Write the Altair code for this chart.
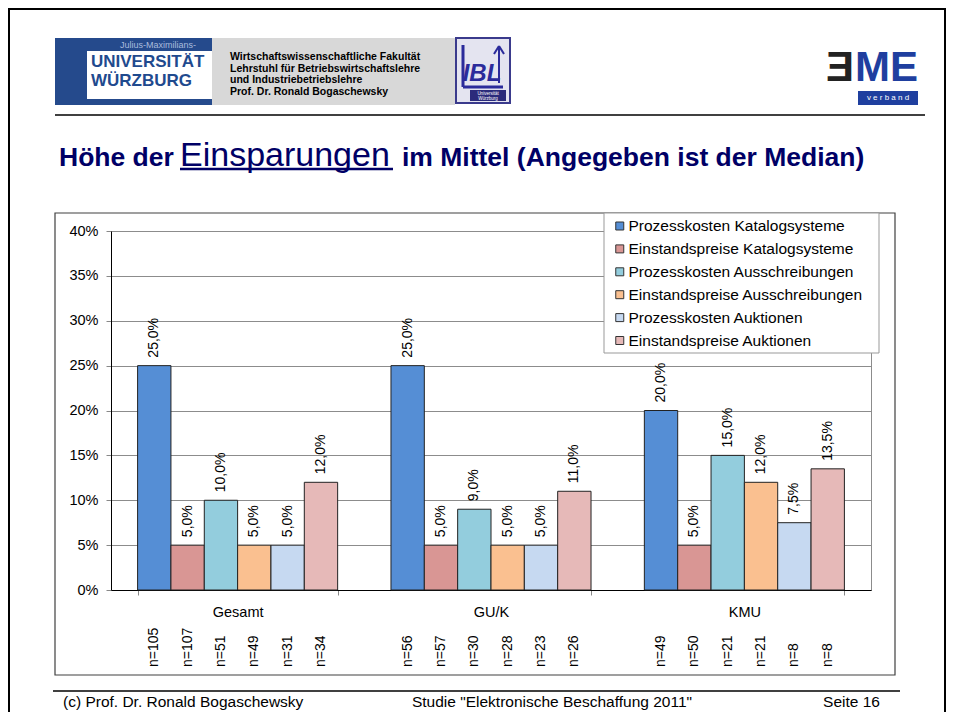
import altair as alt
import pandas as pd

# ---------------- data ----------------
groups = ["Gesamt", "GU/K", "KMU"]
series = [
    "Prozesskosten Katalogsysteme",
    "Einstandspreise Katalogsysteme",
    "Prozesskosten Ausschreibungen",
    "Einstandspreise Ausschreibungen",
    "Prozesskosten Auktionen",
    "Einstandspreise Auktionen",
]
colors = ["#558ED5", "#D99694", "#93CDDD", "#FAC090", "#C6D9F1", "#E6B9B8"]
values_gesamt = [25.0, 5.0, 10.0, 5.0, 5.0, 12.0]
values_guk = [25.0, 5.0, 9.0, 5.0, 5.0, 11.0]
values_kmu = [20.0, 5.0, 15.0, 12.0, 7.5, 13.5]
n_gesamt = [105, 107, 51, 49, 31, 34]
n_guk = [56, 57, 30, 28, 23, 26]
n_kmu = [49, 50, 21, 21, 8, 8]
y_ticks = [0, 5, 10, 15, 20, 25, 30, 35, 40]

title_parts = ["Höhe der", "Einsparungen", "im Mittel (Angegeben ist der Median)"]
footer_left = "(c) Prof. Dr. Ronald Bogaschewsky"
footer_mid = 'Studie "Elektronische Beschaffung 2011"'
footer_right = "Seite 16"
header_lines = ("Wirtschaftswissenschaftliche Fakultät\nLehrstuhl für Betriebswirtschaftslehre\n"
                "und Industriebetriebslehre\nProf. Dr. Ronald Bogaschewsky")

rows = []
for g, vals, ns in [("Gesamt", values_gesamt, n_gesamt), ("GU/K", values_guk, n_guk), ("KMU", values_kmu, n_kmu)]:
    for s, v, n in zip(series, vals, ns):
        rows.append({
            "group": g, "series": s, "value": v, "n": n,
            "label": f"{v:.1f}".replace(".", ",") + "%",
            "ntext": f"n={n}",
        })
df = pd.DataFrame(rows)

FONT = "Liberation Sans"
NAVY = "#000066"

# plot origin on the page
OX, OY = 111, 231
W, H = 760, 359


def px(x):
    return x - OX


def py(y):
    return y - OY


def one(txt=""):
    return pd.DataFrame({"t": [txt]})


def text_layer(txt, x, y, size, color="black", weight="normal", align="left",
               baseline="alphabetic", style=None, line_height=None, font=FONT):
    kw = dict(align=align, baseline=baseline, fontSize=size, color=color,
              fontWeight=weight, font=font)
    if style:
        kw["fontStyle"] = style
    if line_height:
        kw["lineHeight"] = line_height
        kw["lineBreak"] = "\n"
    return alt.Chart(one(txt)).mark_text(**kw).encode(
        text="t:N", x=alt.value(px(x)), y=alt.value(py(y)))


def rect_layer(x1, y1, x2, y2, fill="white", stroke=None, sw=1, fill_opacity=1):
    kw = dict(fill=fill, fillOpacity=fill_opacity)
    if stroke:
        kw["stroke"] = stroke
        kw["strokeWidth"] = sw
    return alt.Chart(one()).mark_rect(**kw).encode(
        x=alt.value(px(x1)), x2=alt.value(px(x2)),
        y=alt.value(py(y1)), y2=alt.value(py(y2)))


def rule_layer(x1, y1, x2, y2, color="black", sw=1):
    return alt.Chart(one()).mark_rule(color=color, strokeWidth=sw).encode(
        x=alt.value(px(x1)), x2=alt.value(px(x2)),
        y=alt.value(py(y1)), y2=alt.value(py(y2)))


IBLC = "#2B2B9B"

# ---------------- decorations ----------------
deco = [
    # slide border
    rect_layer(9, 9, 945, 760, fill="white", fill_opacity=0, stroke="black", sw=2),
    # Würzburg logo
    rect_layer(55, 38, 212, 105, fill="#254A8C"),
    rect_layer(87, 51, 212, 99, fill="white"),
    rect_layer(212, 38, 455, 105, fill="#D8D8D8"),
    text_layer("Julius-Maximilians-", 158, 45, 9, color="#A9BCDD", align="center", baseline="middle"),
    text_layer("UNIVERSITÄT", 91, 67, 17, color="#1F4A8E", weight="bold"),
    text_layer("WÜRZBURG", 91, 86, 17, color="#1F4A8E", weight="bold"),
    text_layer(header_lines, 230, 57, 10.5, weight="bold", baseline="middle", line_height=11.5),
    # IBL logo
    rect_layer(456, 38, 510, 103, fill="#E4E4F0", stroke="#3A3A8C", sw=2),
    text_layer("IBL", 482, 81, 24, color=IBLC, weight="bold", style="italic", align="center"),
    rule_layer(463, 45, 463, 87, color=IBLC, sw=3),
    rule_layer(463, 87, 503, 87, color=IBLC, sw=3),
    rule_layer(499, 83, 499, 48, color=IBLC, sw=2),
    rule_layer(499, 46, 494, 54, color=IBLC, sw=2),
    rule_layer(499, 46, 504, 54, color=IBLC, sw=2),
    rect_layer(470, 90, 506, 101, fill="#2B2B7B"),
    text_layer("Universität\nWürzburg", 488, 93.5, 4.5, color="white", align="center",
               baseline="middle", line_height=5),
    # BME logo
    text_layer("Ǝ", 826, 90, 42, color="#222222", weight="bold", baseline="bottom"),
    text_layer("ME", 855, 90, 42, color="#1F3F9F", weight="bold", baseline="bottom"),
    rect_layer(858, 91, 918, 105, fill="#1F3F9F"),
    text_layer("v e r b a n d", 888, 98, 8, color="white", align="center", baseline="middle"),
    # header separator
    rule_layer(55, 115, 925, 115, sw=1.5),
    # title
    text_layer(title_parts[0], 59, 166, 26.5, color=NAVY, weight="bold"),
    text_layer(title_parts[1], 180, 166, 34, color=NAVY),
    rule_layer(180, 169, 393, 169, color=NAVY, sw=2.5),
    text_layer(title_parts[2], 402, 166, 26.5, color=NAVY, weight="bold"),
    # chart box
    rect_layer(55, 213, 895, 675, fill="white", fill_opacity=0, stroke="#404040", sw=1.2),
    # footer
    rule_layer(53, 691, 900, 691, sw=1.5),
    text_layer(footer_left, 63, 707, 15.5),
    text_layer(footer_mid, 552, 707, 15.5, align="center"),
    text_layer(footer_right, 880, 707, 15.5, align="right"),
]

# ---------------- chart ----------------
base = alt.Chart(df).encode(
    x=alt.X("group:N", sort=groups,
            scale=alt.Scale(domain=groups, paddingInner=0.2105, paddingOuter=0.105),
            axis=alt.Axis(title=None, labelAngle=0, tickBand="extent", tickSize=5,
                          labelPadding=10, labelFontSize=14.5, labelFont=FONT,
                          labelColor="black", domainColor="black", tickColor="#888")),
    xOffset=alt.XOffset("series:N", sort=series,
                        scale=alt.Scale(domain=series, paddingInner=0, paddingOuter=0)),
)

yenc = alt.Y("value:Q", scale=alt.Scale(domain=[0, 40], nice=False),
             axis=alt.Axis(title=None, values=y_ticks, labelExpr="datum.value + '%'",
                           tickSize=5, labelPadding=8, labelFontSize=14.5, labelFont=FONT,
                           labelColor="black", grid=True, gridColor="#8c8c8c",
                           domainColor="black", tickColor="#888"))

bars = base.mark_bar(stroke="#222222", strokeWidth=1).encode(
    y=yenc,
    color=alt.Color("series:N", sort=series,
                    scale=alt.Scale(domain=series, range=colors),
                    legend=alt.Legend(orient="none", legendX=501, legendY=-12.75, title=None,
                                      padding=0, rowPadding=5.9, symbolType="square",
                                      symbolSize=64, symbolStrokeColor="#333333",
                                      symbolStrokeWidth=1, labelFontSize=15.5, labelFont=FONT,
                                      labelColor="black", labelOffset=1, labelLimit=400)),
)

bar_labels = base.mark_text(angle=270, align="left", baseline="middle", dx=8,
                            fontSize=14, font=FONT, color="black").encode(
    y=alt.Y("value:Q"), text="label:N")

n_labels = base.mark_text(angle=270, align="left", baseline="middle",
                          fontSize=14, font=FONT, color="black").encode(
    y=alt.value(py(667)), text="ntext:N")

legend_box = rect_layer(604, 213, 879, 353, fill="white", stroke="#999999", sw=1)

chart = alt.layer(*deco, bars, bar_labels, n_labels, legend_box).properties(
    width=W, height=H,
    autosize=alt.AutoSizeParams(type="none"),
    padding={"left": OX - 8, "top": OY - 8, "right": 938 - (OX - 8) - W, "bottom": 704 - (OY - 8) - H},
    background="white",
).configure_view(stroke="#8c8c8c")

chart.save("out.html", embed_options={"renderer": "svg", "actions": False})
